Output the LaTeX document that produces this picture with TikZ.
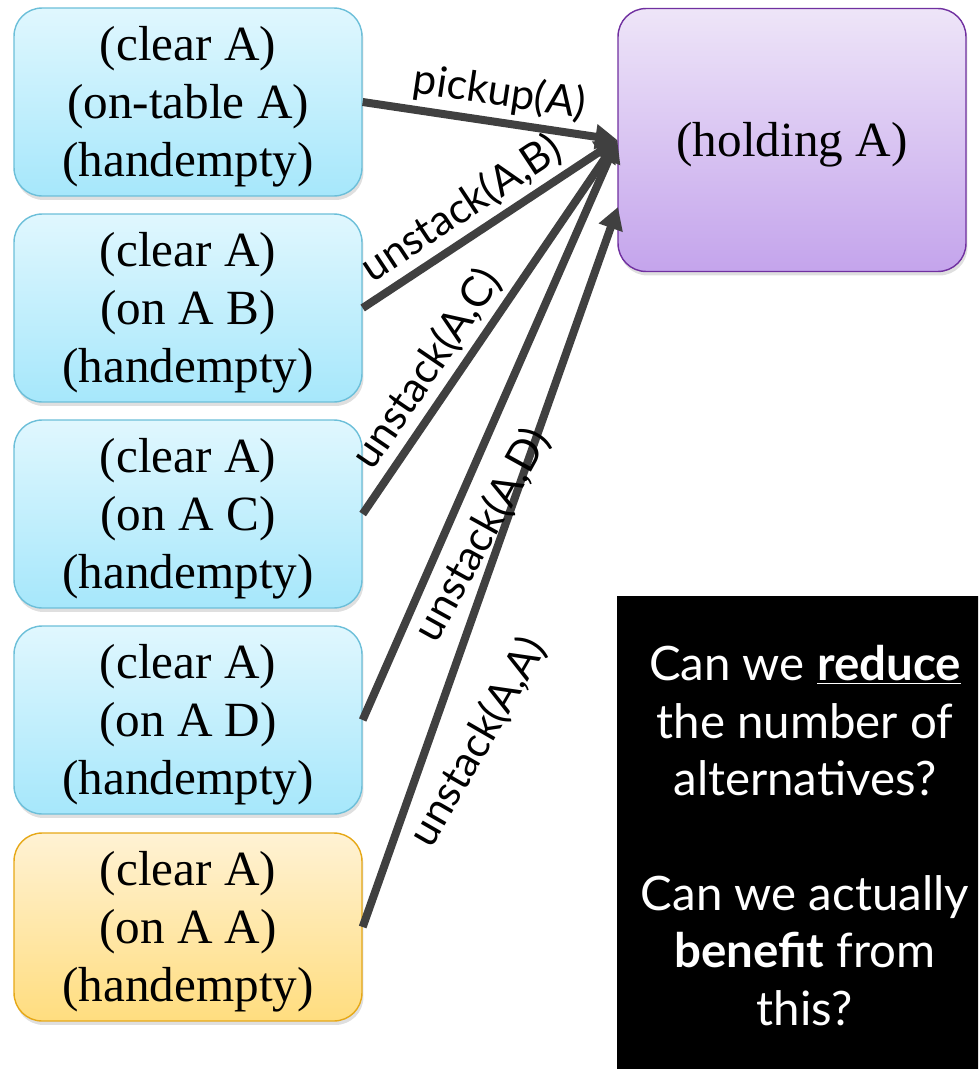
\documentclass[tikz,border=0pt]{standalone}
\usepackage{fontspec}
\setmainfont{Liberation Serif}
\newfontfamily\labelfont{Lato}
\usetikzlibrary{arrows.meta,shadows}

\definecolor{bluetop}{HTML}{E0F7FE}
\definecolor{bluebot}{HTML}{A6E7FB}
\definecolor{blueline}{HTML}{6CBFD9}
\definecolor{orgtop}{HTML}{FFF2D4}
\definecolor{orgbot}{HTML}{FFDD7F}
\definecolor{orgline}{HTML}{E6A817}
\definecolor{purtop}{HTML}{EEE5F8}
\definecolor{purbot}{HTML}{C4A4EC}
\definecolor{purline}{HTML}{7030A0}
\definecolor{arrowgray}{HTML}{404040}

\newcommand{\stackdown}[1]{\raisebox{-0.1cm}[\height][\depth]{\begin{tabular}{@{}c@{}}#1\end{tabular}}}

\begin{document}
\begin{tikzpicture}[x=0.02cm,y=-0.02cm,
  statebox/.style={rounded corners=0.56cm, minimum width=6.96cm, minimum height=3.76cm,
    line width=0.8pt, align=center, font=\fontsize{28}{33}\selectfont,
    drop shadow={shadow xshift=0.03cm, shadow yshift=-0.08cm, opacity=0.25}},
  bluebox/.style={statebox, draw=blueline, top color=bluetop, bottom color=bluebot},
  orangebox/.style={statebox, draw=orgline, top color=orgtop, bottom color=orgbot},
  purplebox/.style={statebox, minimum height=5.26cm, draw=purline, top color=purtop, bottom color=purbot},
  conn/.style={line width=0.16cm, draw=arrowgray, -{Triangle[length=0.44cm,width=0.48cm]}},
  lab/.style={font=\labelfont\fontsize{24}{28}\selectfont, inner sep=3pt}
]
\useasboundingbox (0,0) rectangle (978,1069);
\clip (0,0) rectangle (978,1069);

\node[bluebox] (s1) at (188,102) {\stackdown{(clear A)\\(on-table A)\\(handempty)}};
\node[bluebox] (s2) at (188,308) {\stackdown{(clear A)\\(on A B)\\(handempty)}};
\node[bluebox] (s3) at (188,514) {\stackdown{(clear A)\\(on A C)\\(handempty)}};
\node[bluebox] (s4) at (188,720) {\stackdown{(clear A)\\(on A D)\\(handempty)}};
\node[orangebox] (s5) at (188,927) {\stackdown{(clear A)\\(on A A)\\(handempty)}};

\node[purplebox] (hold) at (792,140) {\stackdown{(holding A)}};
\coordinate (t5) at (618,207);

\node[fill=black, minimum width=7.52cm, minimum height=9.58cm, text=white, align=center,
  font=\labelfont\fontsize{27}{32.7}\selectfont] (q) at (805,835.5)
  {Can we \underline{\textbf{reduce}}\\the number of\\alternatives?\\[32.7pt]Can we actually\\\textbf{benefit} from\\this?};

\draw[conn] (s1.east) -- node[lab, sloped, above, pos=0.52] (l1) {pickup(A)} (hold.west);
\draw[conn] (s2.east) -- node[lab, sloped, above, pos=0.45] (l2) {unstack(A,B)} (hold.west);
\draw[conn] (s3.east) -- node[lab, sloped, above, pos=0.345] (l3) {unstack(A,C)} (hold.west);
\draw[conn] (s4.east) -- (hold.west);
\draw[conn] (s5.east) -- (t5);

\node[lab, rotate=61] (l4) at (482,535) {unstack(A,D)};
\node[lab, rotate=60] (l5) at (478,742) {unstack(A,A)};
\end{tikzpicture}
\end{document}
